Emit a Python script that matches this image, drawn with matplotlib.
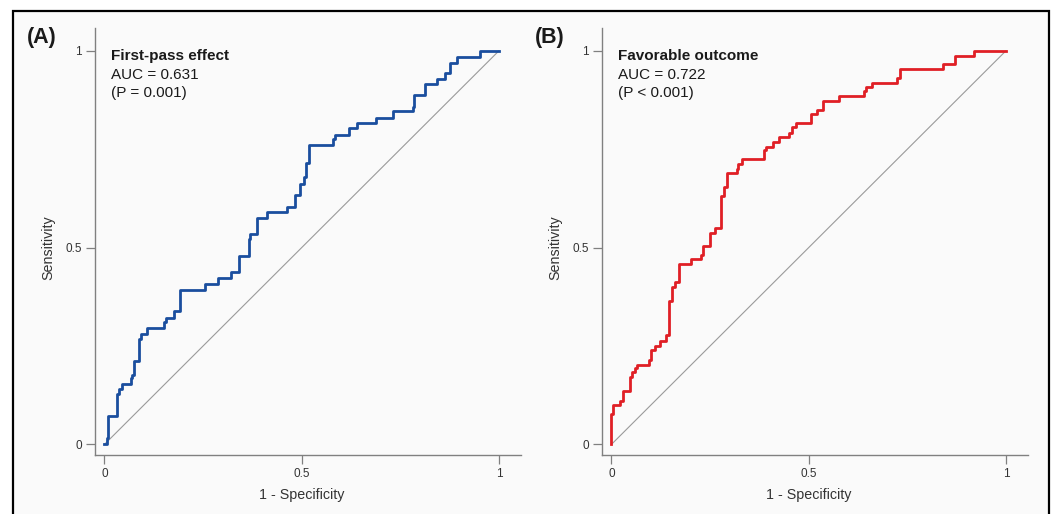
import matplotlib
matplotlib.use("Agg")
import matplotlib.pyplot as plt
from matplotlib.patches import Rectangle

plt.rcParams['font.family'] = ['Liberation Sans', 'DejaVu Sans']

# ROC corner points (x of each vertical step, sensitivity after the step)
fpe_fpr = [0.0, 0.006, 0.010, 0.033, 0.036, 0.045, 0.066, 0.070, 0.075, 0.088,
           0.092, 0.108, 0.152, 0.156, 0.177, 0.191, 0.255, 0.289, 0.322, 0.342,
           0.366, 0.370, 0.386, 0.413, 0.462, 0.483, 0.496, 0.505, 0.512, 0.518,
           0.580, 0.584, 0.621, 0.641, 0.688, 0.731, 0.781, 0.785, 0.812, 0.842,
           0.863, 0.876, 0.893, 0.952, 1.000]
fpe_tpr = [0.0, 0.015, 0.072, 0.128, 0.141, 0.154, 0.168, 0.177, 0.213, 0.267,
           0.280, 0.295, 0.310, 0.322, 0.338, 0.393, 0.408, 0.422, 0.437, 0.479,
           0.521, 0.535, 0.576, 0.591, 0.604, 0.634, 0.662, 0.679, 0.716, 0.760,
           0.776, 0.787, 0.803, 0.816, 0.829, 0.846, 0.858, 0.888, 0.915, 0.929,
           0.943, 0.970, 0.985, 1.000, 1.000]

fav_fpr = [0.0, 0.0, 0.005, 0.022, 0.029, 0.047, 0.052, 0.060, 0.064, 0.094,
           0.101, 0.110, 0.123, 0.138, 0.147, 0.154, 0.162, 0.170, 0.202, 0.227,
           0.233, 0.250, 0.263, 0.278, 0.286, 0.294, 0.317, 0.322, 0.331, 0.387,
           0.392, 0.410, 0.425, 0.451, 0.457, 0.467, 0.505, 0.522, 0.537, 0.577,
           0.640, 0.646, 0.661, 0.724, 0.731, 0.841, 0.872, 0.919, 1.000]
fav_tpr = [0.0, 0.078, 0.100, 0.111, 0.136, 0.172, 0.185, 0.194, 0.202, 0.215,
           0.240, 0.250, 0.263, 0.278, 0.365, 0.401, 0.412, 0.459, 0.471, 0.482,
           0.505, 0.538, 0.551, 0.632, 0.653, 0.689, 0.700, 0.713, 0.725, 0.747,
           0.755, 0.768, 0.782, 0.792, 0.806, 0.816, 0.840, 0.850, 0.873, 0.884,
           0.897, 0.909, 0.919, 0.931, 0.954, 0.966, 0.988, 1.000, 1.000]

tags = ['(A)', '(B)']
titles = ['First-pass effect', 'Favorable outcome']
aucs = ['AUC = 0.631', 'AUC = 0.722']
pvals = ['(P = 0.001)', '(P < 0.001)']
ticks = [0, 0.5, 1]
tick_labels = ['0', '0.5', '1']

curves = [(fpe_fpr, fpe_tpr, '#1a4e9e'), (fav_fpr, fav_tpr, '#e01f25')]

fig = plt.figure(figsize=(10.54, 5.14), dpi=100, facecolor='white')
W, H = 1054, 514

# outer frame, drawn behind the axes
frame = Rectangle((13 / W, -0.05), (1049 - 13) / W, 1.05 - 11 / H,
                  transform=fig.transFigure, facecolor='#fafafa',
                  edgecolor='black', linewidth=1.6, zorder=-10)
fig.patches.append(frame)

lefts = [95 / W, 602 / W]
tag_x = [27 / W, 535 / W]
axis_gray = '#808080'

for i in range(2):
    ax = fig.add_axes([lefts[i], 1 - 455 / H, 426 / W, 427 / H])
    ax.set_zorder(1)
    ax.set_facecolor('none')
    fpr, tpr, col = curves[i]
    ax.plot([0, 1], [0, 1], color='#9a9a9a', lw=0.8, zorder=1)
    ax.plot(fpr, tpr, color=col, lw=2.0, drawstyle='steps-post', zorder=2)
    ax.set_xlim(-0.024, 1.056)
    ax.set_ylim(-0.027, 1.058)

    for s in ['top', 'right']:
        ax.spines[s].set_visible(False)
    for s in ['left', 'bottom']:
        ax.spines[s].set_color(axis_gray)
        ax.spines[s].set_linewidth(1.0)

    ax.set_xticks(ticks)
    ax.set_xticklabels(tick_labels)
    ax.set_yticks(ticks)
    ax.set_yticklabels(tick_labels)
    ax.tick_params(direction='out', length=6.5, width=0.9, color=axis_gray,
                   labelsize=8.5, labelcolor='#333333', pad=3)

    ax.set_xlabel('1 - Specificity', fontsize=10.3, color='#333333')
    ax.set_ylabel('Sensitivity', fontsize=10.3, color='#333333')
    ax.xaxis.set_label_coords(0.486, -0.078)
    ax.yaxis.set_label_coords(-0.094, 0.485)

    ax.text(0.017, 0.987, titles[i], fontsize=11, fontweight='bold',
            va='center', ha='left', color='#1a1a1a')
    ax.text(0.017, 0.939, aucs[i], fontsize=11, va='center', ha='left',
            color='#1a1a1a')
    ax.text(0.017, 0.893, pvals[i], fontsize=11, va='center', ha='left',
            color='#1a1a1a')

    fig.text(tag_x[i], 1 - 37 / H, tags[i], fontsize=15.5, fontweight='bold',
             va='center', ha='left', color='#1a1a1a')

fig.savefig('out.png', dpi=100, facecolor='white')
plt.close()
